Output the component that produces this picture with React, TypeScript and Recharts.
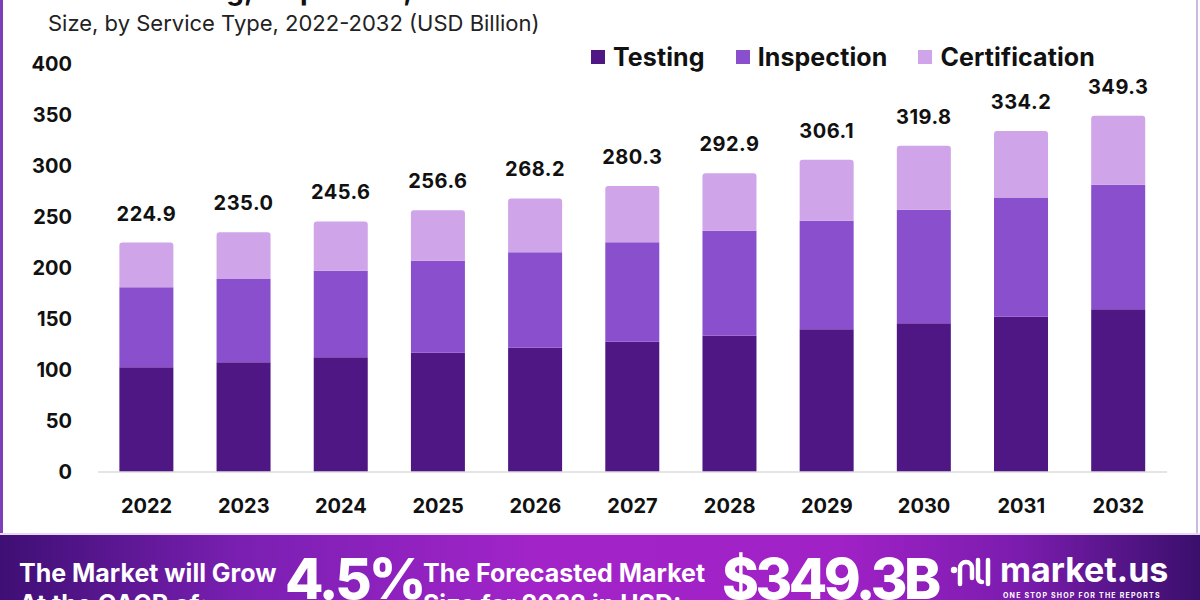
import React from 'react';
import { BarChart, Bar, XAxis, YAxis, LabelList } from 'recharts';

const years = ['2022', '2023', '2024', '2025', '2026', '2027', '2028', '2029', '2030', '2031', '2032'];
const testing = [102.6, 107.5, 112.4, 116.9, 121.8, 127.7, 133.6, 139.9, 145.8, 152.3, 159.5];
const inspection = [78.5, 81.8, 85.0, 90.1, 93.7, 97.6, 102.8, 106.4, 111.3, 116.9, 122.1];
const certification = [43.8, 45.7, 48.2, 49.6, 52.7, 55.0, 56.5, 59.8, 62.7, 65.0, 67.7];
const totals = [224.9, 235.0, 245.6, 256.6, 268.2, 280.3, 292.9, 306.1, 319.8, 334.2, 349.3];
const yTicks = [0, 50, 100, 150, 200, 250, 300, 350, 400];

const COLORS = {
  testing: '#4f1784',
  inspection: '#8a4fcd',
  certification: '#cfa4e8',
};

const FONT = 'Inter, "Open Sans", sans-serif';

const data = years.map((y, i) => ({
  year: y,
  Testing: testing[i],
  Inspection: inspection[i],
  Certification: certification[i],
  total: totals[i],
}));

const legendItems = [
  { name: 'Testing', color: COLORS.testing },
  { name: 'Inspection', color: COLORS.inspection },
  { name: 'Certification', color: COLORS.certification },
];

function ChartLegend() {
  return (
    <div style={{ position: 'absolute', left: 591, top: 42, display: 'flex', alignItems: 'center', gap: 31 }}>
      {legendItems.map(it => (
        <div key={it.name} style={{ display: 'flex', alignItems: 'center', gap: 8 }}>
          <span style={{ width: 14, height: 14, background: it.color, display: 'inline-block' }} />
          <span style={{ fontSize: 25, fontWeight: 700, color: '#111', letterSpacing: 0.1 }}>{it.name}</span>
        </div>
      ))}
    </div>
  );
}

function LogoIcon() {
  return (
    <svg width="44" height="34" viewBox="0 0 44 34" style={{ position: 'absolute', left: 950, top: 19 }}>
      <circle cx="4" cy="16" r="3.2" fill="#fff" />
      <path d="M10 30 V14 a6 6 0 0 1 12 0 V24" stroke="#fff" strokeWidth="4.5" fill="none" strokeLinecap="round" />
      <path d="M28 6 V24 a4 4 0 0 0 4 4" stroke="#fff" strokeWidth="4.5" fill="none" strokeLinecap="round" />
      <path d="M38 6 V30" stroke="#fff" strokeWidth="4.5" fill="none" strokeLinecap="round" />
    </svg>
  );
}

export default function App() {
  return (
    <div style={{ position: 'absolute', top: 0, left: 0, width: 1200, height: 600, overflow: 'hidden', background: '#fff', fontFamily: FONT }}>
      {/* clipped main title, only the descenders show */}
      <div style={{ position: 'absolute', left: 48, top: -27, fontSize: 28, fontWeight: 700, color: '#111', whiteSpace: 'nowrap' }}>
        Global Testing, Inspection, and Certification Market
      </div>
      <div style={{ position: 'absolute', left: 48, top: 10, fontSize: 22, color: '#222', whiteSpace: 'nowrap' }}>
        Size, by Service Type, 2022-2032 (USD Billion)
      </div>
      <div style={{ position: 'absolute', left: 0, top: 0, width: 3, height: 533, background: '#7c3fb9' }} />
      <div style={{ position: 'absolute', left: 1196, top: 0, width: 2, height: 533, background: '#cdb8e0' }} />

      <ChartLegend />

      <div style={{ position: 'absolute', left: 0, top: 0 }}>
        <BarChart
          width={1200}
          height={530}
          data={data}
          margin={{ top: 64, right: 33, left: 0, bottom: 0 }}
          barCategoryGap="22%"
        >
          <XAxis
            dataKey="year"
            height={58}
            tickLine={false}
            axisLine={{ stroke: '#dcdcdc', strokeWidth: 1.5 }}
            tickMargin={21}
            tick={{ fill: '#111', fontSize: 20, fontWeight: 700 }}
          />
          <YAxis
            width={98}
            domain={[0, 400]}
            ticks={yTicks}
            axisLine={false}
            tickLine={false}
            tickMargin={20}
            tick={{ fill: '#111', fontSize: 20, fontWeight: 700 }}
          />
          <Bar dataKey="Testing" stackId="a" fill={COLORS.testing} isAnimationActive={false} />
          <Bar dataKey="Inspection" stackId="a" fill={COLORS.inspection} isAnimationActive={false} />
          <Bar dataKey="Certification" stackId="a" fill={COLORS.certification} radius={[3, 3, 0, 0]} isAnimationActive={false}>
            <LabelList
              dataKey="total"
              position="top"
              offset={22}
              formatter={(v: any) => Number(v).toFixed(1)}
              style={{ fill: '#111', fontSize: 20, fontWeight: 700, letterSpacing: 0.5 }}
            />
          </Bar>
        </BarChart>
      </div>

      {/* bottom banner */}
      <div
        style={{
          position: 'absolute', left: 0, top: 533, width: 1200, height: 67,
          background: 'linear-gradient(90deg, #3e0f74 0%, #7a1fb2 20%, #a224c9 45%, #a021c6 70%, #7b1cae 85%, #3a0f6c 100%)',
          borderTop: '2px solid #e9d6f3',
          color: '#fff',
        }}
      >
        <div style={{ position: 'absolute', left: 19, top: 23, fontSize: 25, fontWeight: 700, lineHeight: '31px', whiteSpace: 'nowrap' }}>
          The Market will Grow<br />At the CAGR of:
        </div>
        <div style={{ position: 'absolute', left: 285, top: 16, fontSize: 56, fontWeight: 800, lineHeight: '56px', letterSpacing: -3, whiteSpace: 'nowrap' }}>
          4.5%
        </div>
        <div style={{ position: 'absolute', left: 423, top: 23, fontSize: 25, fontWeight: 700, lineHeight: '31px', whiteSpace: 'nowrap' }}>
          The Forecasted Market<br />Size for 2032 in USD:
        </div>
        <div style={{ position: 'absolute', left: 722, top: 16, fontSize: 56, fontWeight: 800, lineHeight: '56px', letterSpacing: -3.5, whiteSpace: 'nowrap' }}>
          $349.3B
        </div>
        <LogoIcon />
        <div style={{ position: 'absolute', left: 1000, top: 18, fontSize: 34, fontWeight: 700, lineHeight: '34px', whiteSpace: 'nowrap' }}>
          market.us
        </div>
        <div style={{ position: 'absolute', left: 1003, top: 56, fontSize: 7, fontWeight: 700, letterSpacing: 1.2, whiteSpace: 'nowrap' }}>
          ONE STOP SHOP FOR THE REPORTS
        </div>
      </div>
    </div>
  );
}
